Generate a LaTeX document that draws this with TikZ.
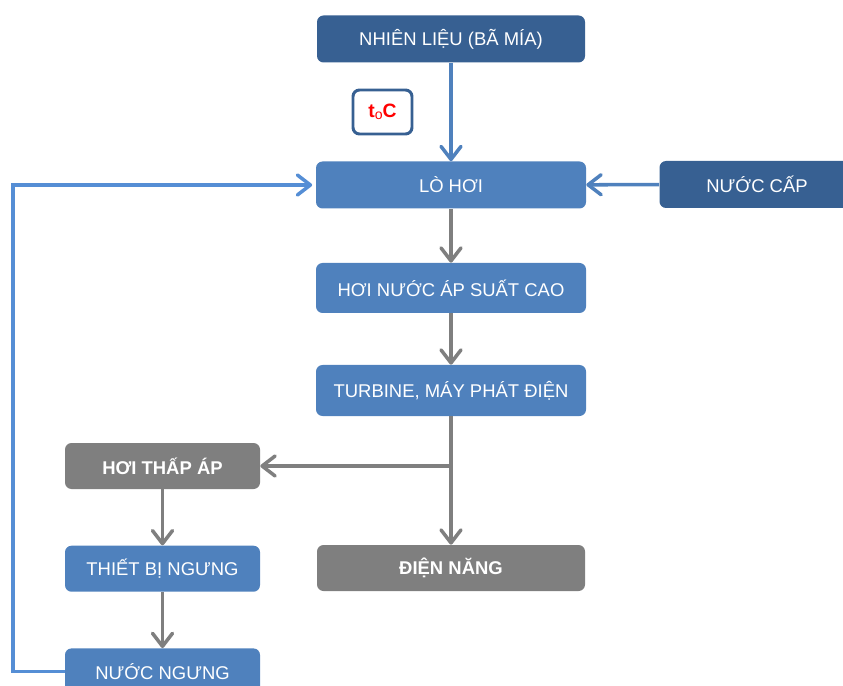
\documentclass[tikz,border=0pt]{standalone}
\usepackage{fontspec}
\setmainfont{Liberation Sans}
\usetikzlibrary{positioning,arrows.meta}
\definecolor{darkblue}{RGB}{55,96,146}
\definecolor{midblue}{RGB}{79,129,189}
\definecolor{lineblue}{RGB}{85,142,213}
\definecolor{boxgray}{RGB}{127,127,127}
\tikzset{box/.style={rounded corners=0.13cm, text=white, font=\fontsize{10.5}{12}\selectfont, minimum height=0.94cm, inner sep=0pt},
  wide/.style={box, minimum width=5.4cm},
  narrow/.style={box, minimum width=3.9cm, minimum height=0.92cm},
  tip/.style={-{Straight Barb[length=2.6mm,width=4mm,round]}, line width=2pt}}
\def\colx{9.02}
\def\sidex{3.25}

\begin{document}
\begin{tikzpicture}
  \useasboundingbox (0,0) rectangle (16.86,-13.72);

  \node[wide, fill=darkblue, minimum width=5.36cm] (nhienlieu) at (\colx,-0.78) {NHIÊN LIỆU (BÃ MÍA)};
  \node[draw=darkblue, line width=1.7pt, rounded corners=0.13cm, fill=white, minimum width=1.18cm, minimum height=0.88cm,
    text=red, font=\fontsize{11}{12}\selectfont\bfseries] (nhietdo) at (7.65,-2.24) {t\raisebox{-0.2ex}{\fontsize{8}{9}\selectfont\mdseries o}C};
  \node[wide, fill=midblue] (lohoi) at (\colx,-3.7) {LÒ HƠI};
  \node[narrow, fill=darkblue, minimum height=0.94cm] (nuoccap) at (15.14,-3.69) {NƯỚC CẤP};
  \node[wide, fill=midblue, minimum height=1cm] (hoinuoc) at (\colx,-5.76) {HƠI NƯỚC ÁP SUẤT CAO};
  \node[wide, fill=midblue, minimum height=1.02cm] (turbine) at (\colx,-7.81) {TURBINE, MÁY PHÁT ĐIỆN};
  \node[wide, fill=boxgray, minimum width=5.36cm, minimum height=0.92cm, font=\fontsize{10.5}{12}\selectfont\bfseries] (diennang) at (\colx,-11.36) {ĐIỆN NĂNG};

  %%% Condenser side %%%

  \node[narrow, fill=boxgray, font=\fontsize{10.5}{12}\selectfont\bfseries] (hoithap) at (\sidex,-9.32) {HƠI THẤP ÁP};
  \node[narrow, fill=midblue, below=1.12cm of hoithap] (thietbi) {THIẾT BỊ NGƯNG};
  \node[narrow, fill=midblue, below=1.12cm of thietbi] (nuocngung) {NƯỚC NGƯNG};

  \coordinate (tach) at (turbine.south |- hoithap.east);
  \coordinate (goc) at (0.26,0 |- nuocngung.west);

  \draw[tip, draw=midblue] (nhienlieu) -- (lohoi);
  \draw[tip, draw=midblue] (nuoccap) -- (lohoi);
  \draw[tip, draw=lineblue] (nuocngung.west) -- (goc) |- ([xshift=-2pt]lohoi.west);

  \foreach \from/\to in {lohoi/hoinuoc, hoinuoc/turbine, turbine/diennang, hoithap/thietbi, thietbi/nuocngung}
  \draw[tip, draw=boxgray] (\from) -- (\to);
  \draw[tip, draw=boxgray] (tach) -- (hoithap);
\end{tikzpicture}
\end{document}
